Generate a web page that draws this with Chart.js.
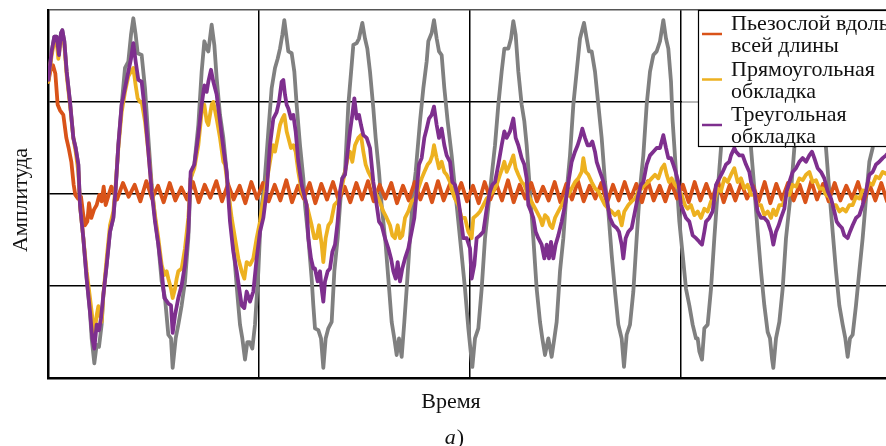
<!DOCTYPE html>
<html><head><meta charset="utf-8">
<script src="https://cdn.jsdelivr.net/npm/chart.js@4.4.1/dist/chart.umd.min.js"></script>
<style>html,body{margin:0;padding:0;overflow:hidden;background:#fff}#wrap{width:900px;height:446px}</style>
</head><body><div id="wrap"><canvas id="c" width="900" height="446"></canvas></div>
<script>
// time axis: sample index (one grid division = 633 samples); amplitude in relative units
const xGridStep = 633;
const xMax = 2532;

const greyX = [1,11,19,26,31,39,43,49,56,66,76,83,91,96,106,116,126,131,139,146,153,161,166,176,186,196,203,211,221,231,241,249,256,263,269,281,291,301,311,321,331,341,351,361,369,374,383,391,401,411,421,428,439,451,461,469,476,481,491,499,506,516,526,536,546,556,569,576,583,591,598,605,613,621,631,639,649,661,671,681,689,696,703,709,716,721,731,739,746,756,766,771,781,791,796,801,811,819,826,833,841,851,859,869,876,883,891,901,911,916,926,933,943,951,958,966,976,983,993,1001,1013,1021,1031,1039,1046,1053,1061,1069,1076,1086,1096,1103,1116,1126,1136,1141,1151,1158,1166,1173,1181,1189,1199,1211,1221,1231,1241,1251,1261,1268,1273,1281,1291,1301,1311,1326,1341,1351,1361,1369,1381,1389,1396,1403,1411,1421,1429,1436,1446,1456,1466,1476,1483,1491,1501,1511,1519,1526,1536,1546,1556,1566,1576,1586,1596,1608,1616,1623,1631,1641,1651,1661,1671,1681,1691,1701,1711,1721,1728,1736,1746,1756,1766,1776,1786,1796,1806,1816,1826,1836,1846,1854,1861,1869,1874,1884,1894,1904,1914,1924,1934,1944,1949,1954,1962,1969,1979,1989,1999,2009,2019,2029,2039,2049,2059,2069,2079,2089,2099,2109,2119,2129,2139,2149,2159,2166,2172,2176,2184,2194,2204,2214,2229,2239,2249,2259,2269,2279,2290,2299,2309,2319,2334,2344,2354,2364,2374,2384,2392,2399,2406,2414,2424,2434,2444,2454,2464,2474,2484,2494,2504,2514,2524];
const greyY = [1.24,1.55,1.71,1.71,1.53,1.75,1.78,1.66,1.33,1.00,0.61,0.50,0.32,-0.12,-0.48,-0.92,-1.28,-1.57,-1.84,-1.64,-1.66,-1.42,-1.10,-0.77,-0.41,-0.26,0.06,0.53,0.97,1.37,1.44,1.73,1.91,1.73,1.53,1.51,1.15,0.61,0.10,-0.26,-0.55,-0.95,-1.13,-1.53,-1.57,-1.89,-1.57,-1.42,-1.21,-0.95,-0.48,0.17,0.32,0.75,1.33,1.66,1.58,1.55,1.84,1.62,1.26,0.86,0.61,0.24,-0.19,-0.55,-1.13,-1.42,-1.57,-1.80,-1.61,-1.61,-1.68,-1.42,-0.84,-0.19,0.10,0.68,1.15,1.37,1.47,1.58,1.73,1.89,1.69,1.55,1.53,1.33,0.97,0.53,0.17,-0.12,-0.48,-0.92,-1.21,-1.46,-1.48,-1.57,-1.89,-1.57,-1.46,-1.39,-0.84,-0.48,-0.12,0.17,0.24,0.97,1.40,1.62,1.64,1.69,1.86,1.69,1.58,1.33,0.93,0.61,0.24,-0.12,-0.55,-0.92,-1.39,-1.57,-1.75,-1.57,-1.77,-1.39,-1.03,-0.48,0.03,0.24,0.79,1.15,1.44,1.66,1.75,1.89,1.69,1.55,1.51,1.15,0.79,0.42,0.06,-0.30,-0.66,-1.03,-1.46,-1.71,-1.88,-1.57,-1.46,-1.03,-0.48,0.03,0.53,0.97,1.33,1.58,1.58,1.69,1.88,1.73,1.33,0.97,0.79,0.53,0.03,-0.48,-1.03,-1.39,-1.57,-1.75,-1.57,-1.77,-1.57,-1.39,-0.84,-0.48,0.03,0.42,0.97,1.33,1.69,1.86,1.69,1.55,1.55,1.33,0.97,0.61,0.13,-0.19,-0.66,-1.06,-1.42,-1.57,-1.88,-1.53,-1.42,-1.06,-0.48,0.06,0.42,0.97,1.33,1.51,1.55,1.66,1.89,1.69,1.58,1.22,0.79,0.24,-0.30,-0.66,-1.03,-1.21,-1.42,-1.57,-1.57,-1.71,-1.80,-1.46,-1.42,-1.03,-0.48,0.03,0.50,0.97,1.33,1.55,1.62,1.87,1.69,1.51,1.15,0.50,0.06,-0.41,-0.84,-1.21,-1.50,-1.57,-1.79,-1.89,-1.57,-1.39,-1.03,-0.48,0.03,0.50,0.97,1.33,1.55,1.62,1.87,1.69,1.51,1.15,0.50,0.03,-0.41,-0.84,-1.21,-1.42,-1.57,-1.77,-1.57,-1.53,-1.21,-0.84,-0.48,-0.05,0.35,0.50,0.97,1.33,1.55,1.62,1.69];

const purpleX = [1,11,19,26,33,39,43,49,56,66,76,83,91,96,106,116,126,133,139,146,153,159,166,176,186,196,203,211,221,231,241,249,256,263,271,281,291,301,311,321,331,341,349,361,369,374,381,391,401,411,421,428,439,451,461,469,476,481,489,496,506,516,526,536,546,556,566,581,589,596,606,616,626,636,646,656,666,676,686,693,701,706,711,716,721,729,736,743,751,761,771,776,781,789,796,801,809,816,821,826,831,839,846,853,861,869,876,883,891,899,906,913,919,926,933,939,946,956,966,976,986,993,1001,1011,1021,1029,1036,1043,1049,1056,1063,1071,1081,1091,1099,1106,1113,1121,1129,1136,1143,1151,1158,1166,1173,1181,1189,1196,1206,1213,1221,1229,1236,1246,1256,1266,1271,1279,1286,1296,1306,1316,1326,1333,1341,1351,1361,1369,1376,1386,1396,1403,1411,1421,1429,1436,1441,1449,1456,1463,1471,1481,1489,1496,1503,1509,1516,1523,1531,1541,1549,1556,1563,1571,1581,1589,1596,1603,1611,1619,1626,1633,1641,1646,1656,1663,1671,1679,1686,1696,1706,1713,1721,1726,1733,1741,1751,1761,1771,1779,1786,1796,1806,1816,1826,1836,1846,1854,1861,1869,1876,1883,1891,1899,1906,1914,1924,1934,1944,1954,1962,1969,1974,1984,1994,1999,2004,2014,2024,2034,2044,2049,2059,2064,2074,2084,2094,2104,2109,2119,2129,2139,2149,2159,2169,2176,2184,2192,2199,2209,2216,2224,2234,2244,2254,2264,2274,2284,2292,2299,2309,2319,2329,2339,2349,2359,2366,2374,2382,2389,2399,2406,2414,2424,2434,2444,2454,2464,2474,2484,2494,2504,2514,2524];
const purpleY = [1.24,1.55,1.71,1.71,1.51,1.75,1.78,1.66,1.33,1.00,0.61,0.50,0.32,-0.12,-0.48,-0.92,-1.28,-1.57,-1.68,-1.42,-1.48,-1.35,-1.10,-0.77,-0.41,-0.26,0.06,0.53,0.97,1.15,1.33,1.47,1.64,1.44,1.24,1.22,0.89,0.46,0.03,-0.30,-0.55,-0.84,-1.13,-1.19,-1.21,-1.51,-1.32,-1.13,-0.99,-0.77,-0.41,0.24,0.32,0.64,0.97,1.18,1.11,1.22,1.35,1.22,1.08,0.79,0.50,0.24,-0.30,-0.63,-0.84,-1.21,-1.24,-1.06,-1.17,-1.06,-0.70,-0.41,-0.26,0.03,0.53,0.82,0.89,1.00,1.22,1.24,1.08,0.97,0.93,0.82,0.86,0.68,0.35,0.10,-0.05,-0.12,-0.48,-0.70,-0.81,-0.81,-0.95,-0.84,-1.03,-1.17,-0.95,-0.84,-0.81,-0.63,-0.55,-0.30,0.03,0.17,0.21,0.46,0.68,0.86,1.04,0.82,0.86,0.75,0.64,0.61,0.50,0.13,-0.12,-0.30,-0.34,-0.48,-0.59,-0.70,-0.84,-0.92,-0.74,-0.95,-0.81,-0.70,-0.59,-0.41,-0.26,0.03,0.32,0.39,0.61,0.71,0.82,0.86,0.95,0.75,0.61,0.71,0.53,0.42,0.35,0.13,0.10,-0.01,-0.19,-0.48,-0.48,-0.59,-0.92,-0.77,-0.48,-0.45,-0.41,-0.16,0.03,0.10,0.13,0.32,0.53,0.68,0.61,0.68,0.82,0.61,0.53,0.39,0.32,0.17,-0.12,-0.19,-0.26,-0.41,-0.48,-0.55,-0.70,-0.55,-0.70,-0.52,-0.70,-0.55,-0.45,-0.30,-0.16,-0.01,0.17,0.35,0.46,0.53,0.61,0.71,0.61,0.53,0.53,0.57,0.46,0.35,0.24,0.17,0.06,-0.12,-0.26,-0.34,-0.37,-0.41,-0.55,-0.70,-0.48,-0.41,-0.37,-0.19,-0.01,0.10,0.13,0.32,0.42,0.46,0.50,0.50,0.64,0.50,0.39,0.39,0.32,0.24,0.13,-0.12,-0.19,-0.26,-0.30,-0.45,-0.48,-0.52,-0.55,-0.41,-0.30,-0.26,-0.19,-0.05,0.10,0.17,0.24,0.32,0.35,0.42,0.50,0.46,0.42,0.42,0.32,0.24,0.13,0.03,-0.19,-0.26,-0.26,-0.30,-0.41,-0.55,-0.41,-0.34,-0.26,-0.16,0.03,0.13,0.24,0.28,0.35,0.39,0.35,0.42,0.46,0.39,0.28,0.24,0.17,0.03,-0.05,-0.19,-0.30,-0.34,-0.37,-0.45,-0.48,-0.41,-0.34,-0.26,-0.23,-0.12,0.03,0.21,0.24,0.32,0.35,0.39,0.42,0.46];

const yellowX = [1,11,19,26,31,39,43,49,56,66,76,83,91,96,106,116,126,131,139,146,151,156,161,166,176,186,196,203,211,221,231,241,249,256,263,269,276,281,291,301,311,321,331,341,349,356,361,369,374,381,386,391,401,411,421,428,439,451,461,469,476,481,491,496,506,516,526,531,541,551,561,571,581,589,596,606,616,626,636,643,651,661,671,676,681,689,696,703,709,716,721,729,736,743,751,761,771,781,791,799,806,813,821,826,833,841,849,859,869,876,883,891,899,906,913,921,931,939,946,953,961,971,981,991,999,1006,1016,1026,1033,1041,1049,1056,1063,1071,1081,1091,1101,1111,1121,1129,1139,1146,1153,1158,1166,1173,1181,1189,1196,1206,1213,1221,1231,1241,1251,1261,1271,1276,1286,1296,1306,1316,1326,1336,1346,1356,1363,1369,1376,1386,1396,1403,1411,1421,1429,1436,1446,1456,1466,1476,1483,1491,1499,1506,1513,1521,1531,1541,1551,1561,1571,1581,1591,1601,1606,1613,1621,1631,1641,1651,1661,1671,1681,1691,1701,1711,1721,1729,1741,1751,1761,1771,1781,1791,1801,1811,1821,1831,1841,1849,1856,1863,1871,1881,1891,1901,1911,1919,1929,1939,1949,1959,1969,1979,1989,1999,2009,2019,2029,2039,2049,2059,2069,2079,2089,2099,2109,2119,2129,2139,2149,2159,2169,2176,2184,2194,2204,2214,2224,2234,2244,2254,2264,2274,2284,2294,2304,2314,2324,2334,2344,2354,2364,2374,2384,2394,2404,2414,2424,2434,2444,2454,2464,2474,2484,2494,2504,2514,2524];
const yellowY = [1.22,1.51,1.66,1.66,1.47,1.69,1.73,1.62,1.29,0.97,0.61,0.46,0.24,-0.12,-0.48,-0.84,-1.13,-1.28,-1.53,-1.32,-1.22,-1.32,-1.39,-1.10,-0.70,-0.34,-0.19,0.10,0.50,0.89,1.11,1.28,1.33,1.37,1.18,1.04,1.00,1.00,0.79,0.46,0.06,-0.23,-0.48,-0.77,-0.88,-0.84,-0.92,-1.03,-1.13,-1.03,-0.92,-0.84,-0.81,-0.59,-0.26,0.17,0.28,0.53,0.89,0.97,0.79,0.75,0.97,1.00,0.82,0.61,0.35,0.32,0.03,-0.26,-0.48,-0.70,-0.84,-0.92,-0.74,-0.77,-0.70,-0.48,-0.30,-0.12,0.03,0.24,0.46,0.53,0.46,0.61,0.75,0.82,0.86,0.68,0.61,0.50,0.53,0.46,0.24,0.03,-0.05,-0.19,-0.34,-0.48,-0.48,-0.34,-0.55,-0.74,-0.48,-0.34,-0.30,-0.12,-0.08,-0.01,0.10,0.24,0.39,0.46,0.35,0.53,0.61,0.64,0.46,0.32,0.24,0.17,0.03,-0.05,-0.12,-0.19,-0.26,-0.34,-0.45,-0.48,-0.34,-0.48,-0.45,-0.26,-0.19,-0.08,-0.05,0.06,0.17,0.24,0.32,0.35,0.42,0.53,0.39,0.28,0.35,0.24,0.21,0.13,0.03,-0.05,-0.12,-0.26,-0.26,-0.41,-0.48,-0.26,-0.23,-0.19,-0.12,-0.05,-0.01,0.03,0.10,0.21,0.28,0.35,0.24,0.32,0.42,0.28,0.21,0.13,0.10,0.03,-0.05,-0.12,-0.19,-0.26,-0.34,-0.23,-0.26,-0.34,-0.37,-0.26,-0.19,-0.12,-0.05,-0.01,0.06,0.13,0.17,0.24,0.39,0.24,0.21,0.13,0.06,0.03,-0.05,-0.12,-0.16,-0.19,-0.23,-0.19,-0.34,-0.19,-0.12,-0.08,-0.05,0.03,0.06,0.10,0.13,0.17,0.21,0.17,0.28,0.32,0.21,0.13,0.17,0.10,0.06,-0.01,-0.12,-0.16,-0.12,-0.23,-0.19,-0.26,-0.16,-0.19,-0.08,-0.08,0.06,0.03,0.17,0.13,0.21,0.28,0.13,0.17,0.06,0.10,-0.01,-0.01,-0.12,-0.12,-0.23,-0.19,-0.26,-0.17,-0.23,-0.12,-0.12,-0.01,-0.01,0.10,0.08,0.17,0.15,0.21,0.24,0.13,0.15,0.06,0.06,-0.01,-0.03,-0.12,-0.12,-0.19,-0.16,-0.19,-0.12,-0.12,-0.03,-0.05,0.04,0.03,0.12,0.10,0.19,0.17,0.24,0.22,0.26];

const orangeX = [1,9,15,22,29,36,46,55,62,70,77,82,90,99,106,111,118,123,130,138,146,154,161,167,173,182,190,207,225,242,260,277,295,312,330,347,365,382,400,417,435,452,470,487,505,522,540,557,575,592,610,627,645,662,680,697,715,732,750,767,785,802,820,837,855,872,890,907,925,942,960,977,995,1012,1030,1047,1065,1082,1100,1117,1135,1152,1170,1187,1205,1222,1240,1257,1275,1292,1310,1327,1345,1362,1380,1397,1415,1432,1450,1467,1485,1502,1520,1537,1555,1572,1590,1607,1625,1642,1660,1677,1695,1712,1730,1747,1765,1782,1800,1817,1835,1852,1870,1887,1905,1922,1940,1957,1975,1992,2010,2027,2045,2062,2080,2097,2115,2132,2150,2167,2185,2202,2220,2237,2255,2272,2290,2307,2325,2342,2360,2377,2395,2412,2430,2447,2465,2482,2500,2517,2535];
const orangeY = [1.22,1.37,1.40,1.31,0.97,0.91,0.86,0.61,0.50,0.35,0.10,-0.01,-0.05,-0.03,-0.23,-0.34,-0.30,-0.10,-0.26,-0.17,-0.12,-0.01,-0.08,0.08,-0.12,-0.01,
0.08,-0.06,0.12,-0.03,0.10,-0.08,0.14,-0.05,0.09,-0.09,0.12,-0.07,0.07,-0.06,0.13,-0.09,0.10,-0.04,0.14,-0.08,0.11,-0.06,0.09,-0.10,
0.13,-0.05,0.12,-0.08,0.10,-0.07,0.15,-0.09,0.09,-0.05,0.12,-0.10,0.11,-0.06,0.13,-0.07,0.08,-0.09,0.12,-0.06,
0.14,-0.08,0.10,-0.05,0.12,-0.10,0.09,-0.07,0.13,-0.06,0.11,-0.09,0.14,-0.07,0.10,-0.05,0.12,-0.08,0.09,-0.10,
0.13,-0.06,0.11,-0.07,0.15,-0.09,0.10,-0.05,0.12,-0.08,0.08,-0.07,0.13,-0.09,0.11,-0.06,0.14,-0.08,0.09,-0.05,
0.12,-0.10,0.10,-0.07,0.13,-0.06,0.11,-0.09,0.14,-0.07,0.09,-0.08,0.12,-0.05,0.10,-0.09,0.13,-0.07,0.11,-0.06,
0.14,-0.09,0.10,-0.07,0.12,-0.05,0.09,-0.08,0.13,-0.10,0.11,-0.06,0.12,-0.07,0.10,-0.09,0.14,-0.06,0.11,-0.08,
0.12,-0.07,0.09,-0.05,0.13,-0.09,0.10,-0.07,0.12,-0.08,0.11];

const seriesLabels = ['Пьезослой вдоль\nвсей длины', 'Прямоугольная\nобкладка', 'Треугольная\nобкладка'];
const xTitle = 'Время';
const yTitle = 'Амплитуда';
const caption = ['а', ')'];

const colors = {grey:'#808080', orange:'#D95319', yellow:'#EDB120', purple:'#7E2F8E'};
const FONT = '"Liberation Serif", "Times New Roman", serif';

const pts = (xs, ys) => xs.map((x, i) => ({x, y: ys[i]}));
const lineDs = (label, xs, ys, color, order, inLegend) => ({
  label, data: pts(xs, ys), borderColor: color, backgroundColor: color,
  borderWidth: 3.8, pointRadius: 0, tension: 0, fill: false,
  borderJoinStyle: 'round', borderCapStyle: 'round', order, inLegend
});

const decor = {
  id: 'decor',
  beforeDatasetsDraw(chart) {
    const {ctx, scales: {x, y}, chartArea} = chart;
    ctx.save();
    ctx.strokeStyle = '#b8b8b8'; ctx.lineWidth = 2;
    const py = y.getPixelForValue(1);
    ctx.beginPath(); ctx.moveTo(x.getPixelForValue(3 * xGridStep) + 1, py); ctx.lineTo(chartArea.right, py); ctx.stroke();
    ctx.restore();
  },
  afterDraw(chart) {
    const {ctx, chartArea} = chart;
    ctx.save();
    ctx.fillStyle = '#111';
    ctx.font = '22px ' + FONT;
    ctx.textBaseline = 'alphabetic';
    ctx.save(); ctx.translate(27, 200); ctx.rotate(-Math.PI / 2); ctx.textAlign = 'center'; ctx.fillText(yTitle, 0, 0); ctx.restore();
    ctx.textAlign = 'center'; ctx.fillText(xTitle, 451, 408);
    ctx.textAlign = 'left';
    ctx.font = 'italic 22px ' + FONT; const w1 = ctx.measureText(caption[0]).width;
    ctx.font = '22px ' + FONT; const w2 = ctx.measureText(caption[1]).width;
    const cx0 = 454 - (w1 + w2) / 2;
    ctx.font = 'italic 22px ' + FONT; ctx.fillText(caption[0], cx0, 444);
    ctx.font = '22px ' + FONT; ctx.fillText(caption[1], cx0 + w1 + 1, 444);
    const bx = 698, by = chartArea.top, bw = 260, bh = 136;
    ctx.fillStyle = '#fff'; ctx.fillRect(bx, by, bw, bh);
    ctx.strokeStyle = '#000'; ctx.lineWidth = 1.2; ctx.strokeRect(bx + 0.5, by + 0.5, bw, bh);
    const items = chart.data.datasets.filter(d => d.inLegend);
    items.forEach((d, i) => {
      const base = by + 20 + i * 45.5;
      ctx.strokeStyle = d.borderColor; ctx.lineWidth = 2.5;
      ctx.beginPath(); ctx.moveTo(bx + 4, base + 4); ctx.lineTo(bx + 24, base + 4); ctx.stroke();
      ctx.fillStyle = '#111'; ctx.font = '22px ' + FONT; ctx.textAlign = 'left';
      d.label.split('\n').forEach((t, k) => ctx.fillText(t, bx + 33, base + k * 22));
    });
    ctx.restore();
  }
};

new Chart(document.getElementById('c'), {
  type: 'line',
  data: {
    datasets: [
      lineDs('Исходный сигнал', greyX, greyY, colors.grey, 4, false),
      lineDs(seriesLabels[0], orangeX, orangeY, colors.orange, 3, true),
      lineDs(seriesLabels[1], yellowX, yellowY, colors.yellow, 2, true),
      lineDs(seriesLabels[2], purpleX, purpleY, colors.purple, 1, true)
    ]
  },
  options: {
    responsive: false, animation: false, devicePixelRatio: 1, events: [],
    layout: {padding: {left: 0, right: 8, top: 10, bottom: 0}},
    plugins: {legend: {display: false}, tooltip: {enabled: false}, title: {display: false}},
    scales: {
      x: {
        type: 'linear', min: 0, max: xMax,
        ticks: {display: false, stepSize: xGridStep},
        grid: {color: '#000', lineWidth: 1.5, drawTicks: false},
        border: {display: true, color: '#000', width: 2.5},
        afterFit: s => { s.height = 68; }
      },
      y: {
        type: 'linear', min: -2, max: 2,
        ticks: {display: false, stepSize: 1},
        grid: {color: c => c.tick && c.tick.value === 2 ? '#555' : '#000', lineWidth: 1.5, drawTicks: false},
        border: {display: true, color: '#000', width: 2.5},
        afterFit: s => { s.width = 48; }
      }
    }
  },
  plugins: [decor]
});
</script>
</body></html>
